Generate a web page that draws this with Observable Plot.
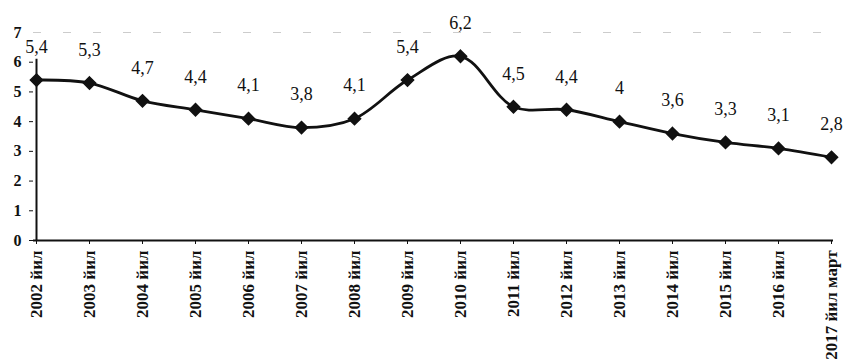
<!DOCTYPE html>
<html>
<head>
<meta charset="utf-8">
<script src="https://cdn.jsdelivr.net/npm/d3@7"></script>
<script src="https://cdn.jsdelivr.net/npm/@observablehq/plot@0.6"></script>
<style>
  body { margin: 0; background: #fff; }
  #chart svg { display: block; }
</style>
</head>
<body>
<div id="chart"></div>
<script>
const categories = ["2002 йил","2003 йил","2004 йил","2005 йил","2006 йил","2007 йил","2008 йил","2009 йил","2010 йил","2011 йил","2012 йил","2013 йил","2014 йил","2015 йил","2016 йил","2017 йил март"];
const values = [5.4, 5.3, 4.7, 4.4, 4.1, 3.8, 4.1, 5.4, 6.2, 4.5, 4.4, 4, 3.6, 3.3, 3.1, 2.8];
const yTicks = [0, 1, 2, 3, 4, 5, 6, 7];

const data = categories.map((c, i) => ({cat: c, v: values[i]}));
const fmt = v => String(v).replace(".", ",");
const serif = "'Liberation Serif', 'Times New Roman', serif";

const chart = Plot.plot({
  width: 845,
  height: 364,
  marginLeft: 33,
  marginRight: 12,
  marginTop: 32,
  marginBottom: 124,
  style: {fontFamily: serif, background: "#fff", color: "#111"},
  x: {type: "point", domain: categories, padding: 0, label: null},
  y: {domain: [0, 7], label: null},
  marks: [
    Plot.ruleY([7], {stroke: "#ccc", strokeDasharray: "8,22", strokeWidth: 1}),
    Plot.axisY({ticks: yTicks.filter(t => t < 7), tickSize: 4, tickPadding: 8, fontSize: 16, fontWeight: "bold", fontFamily: serif, tickFormat: d => d, anchor: "left"}),
    Plot.axisY({ticks: [7], tickSize: 0, tickPadding: 12, fontSize: 16, fontWeight: "bold", fontFamily: serif, tickFormat: d => d, anchor: "left"}),
    Plot.ruleX([categories[0]], {y1: 0, y2: 6.1, stroke: "#111", strokeWidth: 2}),
    Plot.ruleY([0], {stroke: "#111", strokeWidth: 2}),
    Plot.axisX({tickSize: 4, tickRotate: -90, tickPadding: 6, fontSize: 17, fontWeight: "bold", fontFamily: serif}),
    Plot.line(data, {x: "cat", y: "v", stroke: "#111", strokeWidth: 2.8, curve: "catmull-rom"}),
    Plot.dot(data, {x: "cat", y: "v", symbol: "diamond2", r: 5.5, fill: "#111", stroke: "#111", strokeWidth: 1.5}),
    Plot.text(data, {x: "cat", y: "v", text: d => fmt(d.v), dy: -33, fontSize: 18, fontFamily: serif, fill: "#111"})
  ]
});
document.getElementById("chart").appendChild(chart);
</script>
</body>
</html>
